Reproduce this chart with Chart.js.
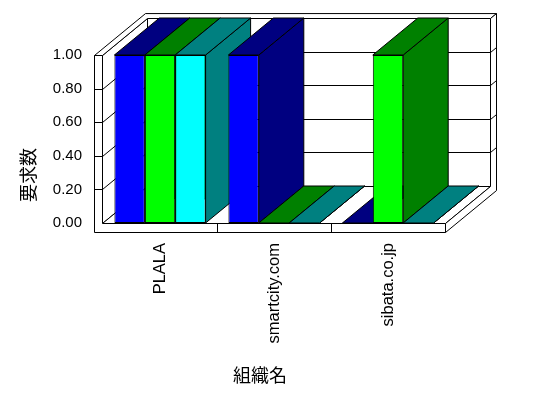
<!DOCTYPE html>
<html>
<head>
<meta charset="utf-8">
<script src="https://cdn.jsdelivr.net/npm/chart.js@4.4.1/dist/chart.umd.min.js"></script>
<style>
  body { margin: 0; background: #fff; }
</style>
</head>
<body>
<div style="width: 548px; height: 398px;">
  <canvas id="requests" width="548" height="398"></canvas>
</div>
<script>
  // data
  var categories = ["PLALA", "smartcity.com", "sibata.co.jp"];
  var series1 = [1, 1, 0];
  var series2 = [1, 0, 1];
  var series3 = [1, 0, 0];
  var yTicks = [0, 0.2, 0.4, 0.6, 0.8, 1.0];
  var xTitle = "組織名";
  var yTitle = "要求数";

  var frontColors = ["#0000ff", "#00ff00", "#00ffff"];
  var darkColors = ["#000080", "#008000", "#008080"];

  // depth of the box, in pixels
  var DX = 45, DY = 37;
  var BACK = 6 / 45;   // thickness of the back wall, as part of the depth
  var WALL = 8, FLOOR = 9;

  function proj(x, y, z) {
    return [x + z * DX, y - z * DY];
  }

  function poly(ctx, pts, fill) {
    ctx.beginPath();
    pts.forEach(function(p, i) {
      if (i === 0) ctx.moveTo(p[0], p[1]); else ctx.lineTo(p[0], p[1]);
    });
    ctx.closePath();
    ctx.fillStyle = fill;
    ctx.fill();
    ctx.stroke();
  }

  function line(ctx, a, b) {
    ctx.beginPath();
    ctx.moveTo(a[0], a[1]);
    ctx.lineTo(b[0], b[1]);
    ctx.stroke();
  }

  var box3d = {
    id: "box3d",
    beforeDatasetsDraw: function(chart) {
      var ctx = chart.ctx;
      var area = chart.chartArea;
      var yScale = chart.scales.y;
      var xScale = chart.scales.x;
      var L = area.left - 0.5, R = area.right + 0.5, T = area.top + 0.5, B = area.bottom + 0.5;
      var OL = L - WALL, OB = B + FLOOR, ZB = 1 + BACK;

      ctx.save();
      ctx.strokeStyle = "#000";
      ctx.lineWidth = 1;

      // inner faces: left wall, back wall, floor
      poly(ctx, [proj(L, T, 0), proj(L, T, 1), proj(L, B, 1), proj(L, B, 0)], "#fff");
      poly(ctx, [proj(L, T, 1), proj(R, T, 1), proj(R, B, 1), proj(L, B, 1)], "#fff");
      poly(ctx, [proj(L, B, 0), proj(L, B, 1), proj(R, B, 1), proj(R, B, 0)], "#fff");
      // top of the walls
      poly(ctx, [proj(OL, T, 0), proj(L, T, 0), proj(L, T, 1), proj(R, T, 1), proj(R, T, ZB), proj(OL, T, ZB)], "#fff");
      // right side of back wall and floor
      poly(ctx, [proj(R, B, 0), proj(R, B, 1), proj(R, T, 1), proj(R, T, ZB), proj(R, OB, ZB), proj(R, OB, 0)], "#fff");
      // front of left wall and floor
      poly(ctx, [[OL, T], [L, T], [L, B], [R, B], [R, OB], [OL, OB]], "#fff");

      // grid lines
      yTicks.forEach(function(v) {
        if (v === 0 || v === 1) return;
        var y = Math.round(yScale.getPixelForValue(v)) + 0.5;
        line(ctx, [OL, y], [L, y]);
        line(ctx, proj(L, y, 0), proj(L, y, 1));
        line(ctx, proj(L, y, 1), proj(R, y, 1));
        line(ctx, proj(R, y, 1), proj(R, y, ZB));
      });

      // category dividers on the floor front
      for (var i = 0; i < categories.length - 1; i++) {
        var x = Math.round((xScale.getPixelForValue(i) + xScale.getPixelForValue(i + 1)) / 2) + 0.5;
        line(ctx, [x, B], [x, OB]);
      }

      // top and side faces of the bars, left to right
      for (var c = 0; c < categories.length; c++) {
        chart.data.datasets.forEach(function(ds, d) {
          var el = chart.getDatasetMeta(d).data[c];
          var p = el.getProps(["x", "y", "base", "width"], true);
          var l = p.x - p.width / 2, r = p.x + p.width / 2;
          poly(ctx, [[r, p.y], proj(r, p.y, 1), proj(r, p.base, 1), [r, p.base]], darkColors[d]);
          poly(ctx, [[l, p.y], [r, p.y], proj(r, p.y, 1), proj(l, p.y, 1)], darkColors[d]);
        });
      }
      ctx.restore();
    },
    afterDraw: function(chart) {
      var ctx = chart.ctx;
      ctx.save();
      ctx.fillStyle = "#000";
      ctx.font = "18px 'Noto Sans CJK JP'";
      ctx.textAlign = "center";
      ctx.textBaseline = "middle";
      ctx.fillText(xTitle, 260, 375);
      ctx.translate(28, 175);
      ctx.rotate(-Math.PI / 2);
      ctx.fillText(yTitle, 0, 0);
      ctx.restore();
    }
  };

  var context = document.getElementById("requests").getContext("2d");

  var data = {
    labels: categories,
    datasets: [series1, series2, series3].map(function(values, i) {
      return {
        label: "series" + (i + 1),
        data: values,
        backgroundColor: frontColors[i],
        borderColor: "#000",
        borderWidth: 1,
        borderSkipped: false
      };
    })
  };

  var chart = new Chart(context, {
    type: "bar",
    data: data,
    plugins: [box3d],
    options: {
      responsive: false,
      animation: false,
      devicePixelRatio: 1,
      layout: { padding: { top: 55, right: 103, left: 0, bottom: 0 } },
      categoryPercentage: 0.8,
      barPercentage: 1.0,
      plugins: { legend: { display: false }, tooltip: { enabled: false } },
      scales: {
        x: {
          grid: { display: false, drawTicks: false },
          border: { display: false },
          ticks: {
            color: "#000",
            font: { family: "'Liberation Sans', Arial, sans-serif", size: 16.5 },
            minRotation: 90,
            maxRotation: 90,
            autoSkip: false,
            padding: 20
          },
          afterFit: function(scale) { scale.height = 175; }
        },
        y: {
          min: 0,
          max: 1,
          grid: { display: false, drawTicks: false },
          border: { display: false },
          ticks: {
            color: "#000",
            stepSize: 0.2,
            font: { family: "'Liberation Sans', Arial, sans-serif", size: 15 },
            padding: 21,
            callback: function(v) { return v.toFixed(2); }
          },
          afterFit: function(scale) { scale.width = 103; }
        }
      }
    }
  });
</script>
</body>
</html>
